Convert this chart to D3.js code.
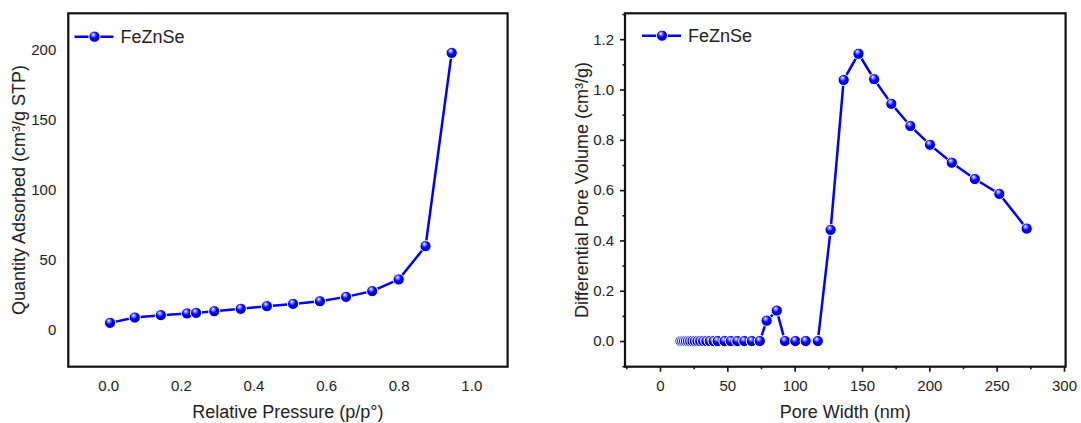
<!DOCTYPE html>
<html>
<head>
<meta charset="utf-8">
<script src="https://cdn.jsdelivr.net/npm/d3@7"></script>
<style>
  body { margin: 0; background: #fff; }
  svg text { font-family: "Liberation Sans", Arial, sans-serif; fill: #222; }
</style>
</head>
<body>
<div id="chart"></div>
<script>
// isotherm (left panel)
const pressure = [0.005, 0.073, 0.145, 0.217, 0.242, 0.292, 0.365, 0.437, 0.509, 0.583, 0.655, 0.727, 0.800, 0.874, 0.946];
const quantity = [5.2, 9.0, 10.7, 11.9, 12.3, 13.5, 15.2, 17.1, 18.7, 20.6, 23.7, 27.8, 36.1, 59.8, 197.4];

// pore size distribution (right panel)
const poreWidth = [15.2, 16.5, 17.9, 19.3, 20.8, 22.4, 24.1, 25.9, 27.8, 29.8, 32.0, 34.4, 37.0, 39.8, 42.8,
                   47.9, 52.6, 57.4, 62.6, 68.2, 74.1, 79.2, 86.7, 92.8, 100.5, 108.2, 117.2, 126.7, 136.4,
                   147.4, 159.0, 171.8, 185.9, 200.5, 216.7, 233.8, 252.0, 272.3];
const poreVolume = [0, 0, 0, 0, 0, 0, 0, 0, 0, 0, 0, 0, 0, 0, 0,
                    0, 0, 0, 0, 0, 0, 0.081, 0.121, 0, 0, 0, 0, 0.442, 1.038,
                    1.142, 1.041, 0.943, 0.855, 0.780, 0.709, 0.644, 0.585, 0.447];

const leftXTicks = [0.0, 0.2, 0.4, 0.6, 0.8, 1.0];
const leftYTicks = [0, 50, 100, 150, 200];
const rightXTicks = [0, 50, 100, 150, 200, 250, 300];
const rightXMinor = [-25, 25, 75, 125, 175, 225, 275];
const rightYTicks = [0.0, 0.2, 0.4, 0.6, 0.8, 1.0, 1.2];
const rightYMinor = [-0.1, 0.1, 0.3, 0.5, 0.7, 0.9, 1.1, 1.3];

const seriesName = "FeZnSe";

let svg = d3.select("#chart")
    .append("svg")
    .attr("width", 1081)
    .attr("height", 423);

// shiny ball marker
let grad = svg.append("defs").append("radialGradient")
    .attr("id", "ball")
    .attr("cx", "45%").attr("cy", "40%").attr("r", "60%")
    .attr("fx", "38%").attr("fy", "30%");
grad.append("stop").attr("offset", "0%").attr("stop-color", "#ffffff");
grad.append("stop").attr("offset", "22%").attr("stop-color", "#8080ff");
grad.append("stop").attr("offset", "50%").attr("stop-color", "#0000ff");
grad.append("stop").attr("offset", "100%").attr("stop-color", "#0000b4");

function drawPanel(p) {
    let g = svg.append("g");

    let x = d3.scaleLinear().domain(p.xDomain).range([p.left, p.right]);
    let y = d3.scaleLinear().domain(p.yDomain).range([p.bottom, p.top]);

    // axes (ticks only where the panel has them)
    let tMajor = p.ticks ? 5 : 0;
    let xAxis = g.append("g")
        .attr("transform", "translate(0," + p.bottom + ")")
        .call(d3.axisBottom(x).tickValues(p.xTicks).tickFormat(p.xFormat)
              .tickSize(tMajor).tickSizeOuter(0).tickPadding(p.ticks ? 9 : 14));
    let yAxis = g.append("g")
        .attr("transform", "translate(" + p.left + ",0)")
        .call(d3.axisLeft(y).tickValues(p.yTicks).tickFormat(p.yFormat)
              .tickSize(tMajor).tickSizeOuter(0).tickPadding(p.ticks ? 6 : 12));
    if (p.ticks) {
        g.append("g")
            .attr("transform", "translate(0," + p.bottom + ")")
            .call(d3.axisBottom(x).tickValues(p.xMinor).tickFormat("").tickSize(2.5).tickSizeOuter(0));
        g.append("g")
            .attr("transform", "translate(" + p.left + ",0)")
            .call(d3.axisLeft(y).tickValues(p.yMinor).tickFormat("").tickSize(2.5).tickSizeOuter(0));
    }
    g.selectAll(".domain").remove();
    g.selectAll(".tick line").attr("stroke", "#111").attr("stroke-width", 1.6);
    g.selectAll(".tick text").style("font-size", "15px").attr("fill", "#222");

    // frame
    g.append("rect")
        .attr("x", p.left).attr("y", p.top)
        .attr("width", p.right - p.left).attr("height", p.bottom - p.top)
        .attr("fill", "none").attr("stroke", "#111").attr("stroke-width", 2.2);

    // axis titles
    g.append("text")
        .attr("x", (p.left + p.right) / 2).attr("y", 418)
        .attr("text-anchor", "middle")
        .style("font-size", "18px")
        .text(p.xTitle);
    g.append("text")
        .attr("transform", "translate(" + p.yTitleX + "," + (p.top + p.bottom) / 2 + ")rotate(-90)")
        .attr("text-anchor", "middle")
        .attr("dy", "0.35em")
        .style("font-size", "18px")
        .text(p.yTitle);

    // data line + markers
    let pts = p.xs.map(function(d, i) { return [d, p.ys[i]]; });
    g.append("path")
        .datum(pts)
        .attr("fill", "none")
        .attr("stroke", "#0000ff")
        .attr("stroke-width", 2.5)
        .attr("d", d3.line().x(function(d) { return x(d[0]); }).y(function(d) { return y(d[1]); }));
    g.selectAll("circle.pt")
        .data(pts)
        .enter()
        .append("circle")
        .attr("class", "pt")
        .attr("cx", function(d) { return x(d[0]); })
        .attr("cy", function(d) { return y(d[1]); })
        .attr("r", 5.6)
        .attr("fill", "url(#ball)")
        .attr("stroke", "#ffffff")
        .attr("stroke-width", 1);

    // legend
    let lg = g.append("g").attr("transform", "translate(" + p.legX + "," + p.legY + ")");
    lg.append("line").attr("x1", 0).attr("x2", 39).attr("y1", 0).attr("y2", 0)
        .attr("stroke", "#0000ff").attr("stroke-width", 2.5);
    lg.append("circle").attr("cx", 20).attr("cy", 0).attr("r", 5.6)
        .attr("fill", "url(#ball)").attr("stroke", "#fff").attr("stroke-width", 1);
    lg.append("text").attr("x", 46).attr("y", 0).attr("dy", "0.35em")
        .style("font-size", "18px")
        .text(seriesName);
}

drawPanel({
    left: 68.3, right: 507.6, top: 13.3, bottom: 366.7,
    xDomain: [-0.11, 1.1], yDomain: [-26, 225.6],
    xTicks: leftXTicks, yTicks: leftYTicks,
    xFormat: d3.format(".1f"), yFormat: d3.format("d"),
    ticks: false,
    xTitle: "Relative Pressure (p/p°)",
    yTitle: "Quantity Adsorbed (cm³/g STP)", yTitleX: 19,
    xs: pressure, ys: quantity,
    legX: 74.5, legY: 36.7
});

drawPanel({
    left: 625, right: 1065.6, top: 13.3, bottom: 366.7,
    xDomain: [-26, 301.2], yDomain: [-0.102, 1.303],
    xTicks: rightXTicks, yTicks: rightYTicks,
    xMinor: rightXMinor, yMinor: rightYMinor,
    xFormat: d3.format("d"), yFormat: d3.format(".1f"),
    ticks: true,
    xTitle: "Pore Width (nm)",
    yTitle: "Differential Pore Volume (cm³/g)", yTitleX: 581.4,
    xs: poreWidth, ys: poreVolume,
    legX: 642, legY: 35.7
});
</script>
</body>
</html>
